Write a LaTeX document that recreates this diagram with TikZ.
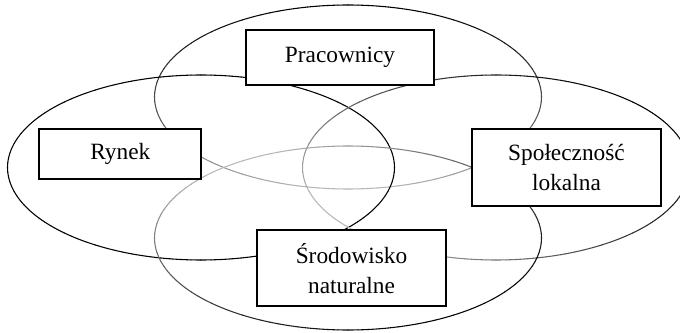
\documentclass[tikz,border=0pt]{standalone}
\usepackage{fontspec}
\setmainfont{Liberation Serif}
\tikzset{
  box/.style={draw=black, line width=1.4pt, fill=white, align=center, inner sep=2pt,
    font=\fontsize{17.5}{22.5}\selectfont},
}
% gradient-stroked ellipse: cx, cy, rx, ry, dark direction, min black %
\newcommand\gradellipse[6]{%
  \foreach \a in {0,3,...,357}{%
    \pgfmathsetmacro\s{cos(\a+1.5-(#5))}%
    \pgfmathsetmacro\f{min(100,max(#6,#6+(100-#6)*(max(0.01,(\s+1)/2))^0.7))}%
    \draw[black!\f, line width=0.8pt, line cap=round]
      ({#1+#3*cos(\a)},{#2+#4*sin(\a)})
      arc[start angle=\a, end angle=\a+3, x radius=#3, y radius=#4];
  }%
}
\begin{document}
\begin{tikzpicture}[x=0.75pt,y=0.75pt]
\useasboundingbox (0,0) rectangle (680,332);
\clip (0,0) rectangle (680,332);
% ellipses
\gradellipse{348}{235}{193.5}{92}{90}{25}
\gradellipse{201}{164.5}{193.5}{92.5}{180}{100}
\gradellipse{496}{164.5}{193.5}{92.5}{30}{25}
\gradellipse{348}{94}{193.5}{92}{305}{25}
% boxes
\node[box, minimum width=141pt, minimum height=41.25pt] (prac) at (340,274.5) {Pracownicy};
\node[box, minimum width=121.5pt, minimum height=37.5pt] (rynek) at (120.3,178) {Rynek};
\node[box, minimum width=141.75pt, minimum height=57.75pt] (spol) at (566.5,164.5) {Społeczność\\lokalna};
\node[box, minimum width=141.75pt, minimum height=57pt] (srod) at (351.5,63.7) {Środowisko\\naturalne};
\end{tikzpicture}
\end{document}
